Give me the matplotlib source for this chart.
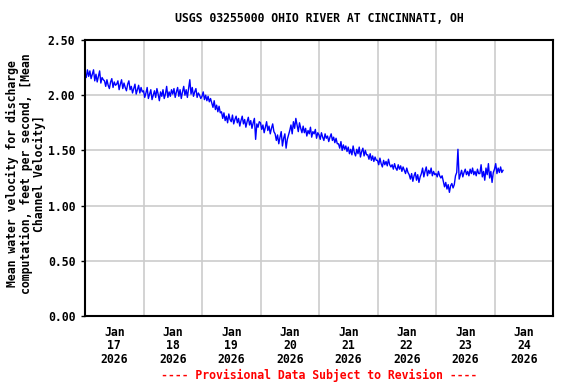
import matplotlib
matplotlib.use("Agg")
import matplotlib.pyplot as plt
import matplotlib.dates as mdates
import pandas as pd

# 30-minute readings of mean channel velocity (ft/s)
jan17 = [2.20, 2.16, 2.23, 2.17, 2.22, 2.15, 2.19, 2.23,
         2.13, 2.19, 2.12, 2.17, 2.22, 2.11, 2.16, 2.14,
         2.13, 2.08, 2.14, 2.09, 2.06, 2.12, 2.15, 2.07, 2.12, 2.09,
         2.10, 2.13, 2.05, 2.10, 2.14, 2.06, 2.11, 2.07, 2.04, 2.10, 2.13, 2.05,
         2.08, 2.02, 2.06, 2.10, 2.01, 2.05, 2.09, 2.02, 2.07, 2.03]
jan18 = [2.04, 1.98, 2.02, 2.07, 1.97, 2.01, 2.05, 1.96, 2.00, 2.04, 1.98, 2.06,
         2.01, 1.95, 2.03, 1.99, 2.05, 1.97, 2.01, 2.08, 1.98, 2.03, 1.99, 2.05,
         2.01, 2.06, 1.98, 2.03, 2.07, 1.99, 2.05, 1.97, 2.03, 2.08, 2.00, 2.05,
         1.98, 2.06, 2.14, 2.01, 2.07, 1.99, 2.03, 2.06, 1.98, 2.02, 2.00, 1.97]
jan19 = [1.99, 2.03, 1.96, 2.00, 1.95, 1.99, 1.94, 1.97,
         1.93, 1.89, 1.95, 1.87, 1.91, 1.85, 1.90, 1.84,
         1.85, 1.79, 1.84, 1.77, 1.81, 1.75, 1.83, 1.78, 1.76, 1.82, 1.74, 1.78,
         1.81, 1.75, 1.79, 1.72, 1.77, 1.81, 1.74, 1.78, 1.71, 1.76, 1.80, 1.73,
         1.77, 1.70, 1.75, 1.79, 1.60, 1.74, 1.71, 1.76]
jan20 = [1.75, 1.69, 1.73, 1.66, 1.71, 1.76, 1.68, 1.72, 1.65, 1.70, 1.74, 1.67,
         1.65, 1.59, 1.64, 1.56, 1.62, 1.67, 1.54, 1.61, 1.65, 1.52, 1.60, 1.64,
         1.68, 1.73, 1.65, 1.76, 1.70, 1.79, 1.73, 1.67, 1.75, 1.70, 1.66, 1.72,
         1.66, 1.70, 1.63, 1.68, 1.65, 1.71, 1.62, 1.67, 1.65, 1.69, 1.61, 1.66]
jan21 = [1.64, 1.60, 1.66, 1.62, 1.59, 1.65, 1.61, 1.63,
         1.58, 1.62, 1.65, 1.59, 1.62, 1.57, 1.61, 1.56,
         1.56, 1.52, 1.58, 1.50, 1.55, 1.51, 1.54, 1.49,
         1.53, 1.47, 1.51, 1.46, 1.54, 1.48, 1.45, 1.51,
         1.47, 1.53, 1.44, 1.49, 1.52, 1.45, 1.50, 1.46,
         1.46, 1.42, 1.47, 1.41, 1.45, 1.40, 1.44, 1.41]
jan22 = [1.41, 1.37, 1.43, 1.38, 1.35, 1.41, 1.37, 1.40, 1.36, 1.42, 1.37, 1.35,
         1.37, 1.33, 1.38, 1.34, 1.32, 1.37, 1.33, 1.36, 1.31, 1.35, 1.32, 1.29, 1.34, 1.30,
         1.28, 1.24, 1.29, 1.22, 1.27, 1.30, 1.23, 1.28, 1.21, 1.26,
         1.29, 1.34, 1.26, 1.31, 1.35, 1.27, 1.32, 1.29, 1.34, 1.27, 1.31, 1.28]
jan23 = [1.29, 1.26, 1.31, 1.27, 1.25, 1.27,
         1.22, 1.17, 1.21, 1.15, 1.19, 1.12, 1.18, 1.20, 1.16, 1.19,
         1.27, 1.30, 1.51, 1.24,
         1.28, 1.32, 1.26, 1.30, 1.33, 1.28, 1.31, 1.27,
         1.33, 1.29, 1.34, 1.28, 1.31, 1.27, 1.33, 1.29,
         1.29, 1.37, 1.26, 1.31, 1.23, 1.34, 1.28, 1.38, 1.25, 1.31, 1.21, 1.30]
jan24 = [1.33, 1.38, 1.29, 1.34, 1.30, 1.35, 1.30, 1.32]

velocity = jan17 + jan18 + jan19 + jan20 + jan21 + jan22 + jan23 + jan24
times = pd.date_range("2026-01-17 00:00", periods=len(velocity), freq="30min")

yticks = [0.0, 0.5, 1.0, 1.5, 2.0, 2.5]
title = "USGS 03255000 OHIO RIVER AT CINCINNATI, OH"
ylabel = "Mean water velocity for discharge\ncomputation, feet per second, [Mean\nChannel Velocity]"
note = "---- Provisional Data Subject to Revision ----"

MONO = "DejaVu Sans Mono"
FS = 8.3

fig = plt.figure(figsize=(5.76, 3.84), dpi=100)
ax = fig.add_axes([85 / 576, 1 - 316 / 384, 468 / 576, 276 / 384])

ax.plot(times, velocity, color="#0000ff", linewidth=1.0)

ax.set_xlim(pd.Timestamp("2026-01-17"), pd.Timestamp("2026-01-25"))
ax.set_ylim(0, 2.5)
ax.set_yticks(yticks)
ax.set_yticklabels([f"{v:.2f}" for v in yticks])

ax.xaxis.set_major_locator(mdates.DayLocator())
ax.xaxis.set_major_formatter(plt.NullFormatter())
ax.xaxis.set_minor_locator(mdates.HourLocator(byhour=[12]))
ax.xaxis.set_minor_formatter(mdates.DateFormatter("%b\n%d\n%Y"))
ax.tick_params(axis="x", which="major", length=0)
ax.tick_params(axis="x", which="minor", length=0, pad=7)
ax.tick_params(axis="y", length=3, width=1, pad=4)

for lbl in ax.get_xticklabels(minor=True) + ax.get_yticklabels():
    lbl.set_fontfamily(MONO)
    lbl.set_fontweight("bold")
    lbl.set_fontsize(FS)
for lbl in ax.get_xticklabels(minor=True):
    lbl.set_linespacing(1.05)

ax.grid(True, which="major", color="#cccccc", linewidth=1.2)
ax.set_axisbelow(True)
for spine in ax.spines.values():
    spine.set_linewidth(1.5)
    spine.set_color("black")

fig.text(26 / 576, 1 - 174 / 384, ylabel, rotation=90, ha="center", va="center",
         multialignment="center", fontfamily=MONO, fontweight="bold",
         fontsize=FS, linespacing=1.0)
fig.text(319 / 576, 1 - 19 / 384, title, ha="center", va="center",
         fontfamily=MONO, fontweight="bold", fontsize=FS)
fig.text(319 / 576, 1 - 375 / 384, note, ha="center", va="center",
         fontfamily=MONO, fontweight="bold", fontsize=FS, color="red")

fig.savefig("out.png", dpi=100)
